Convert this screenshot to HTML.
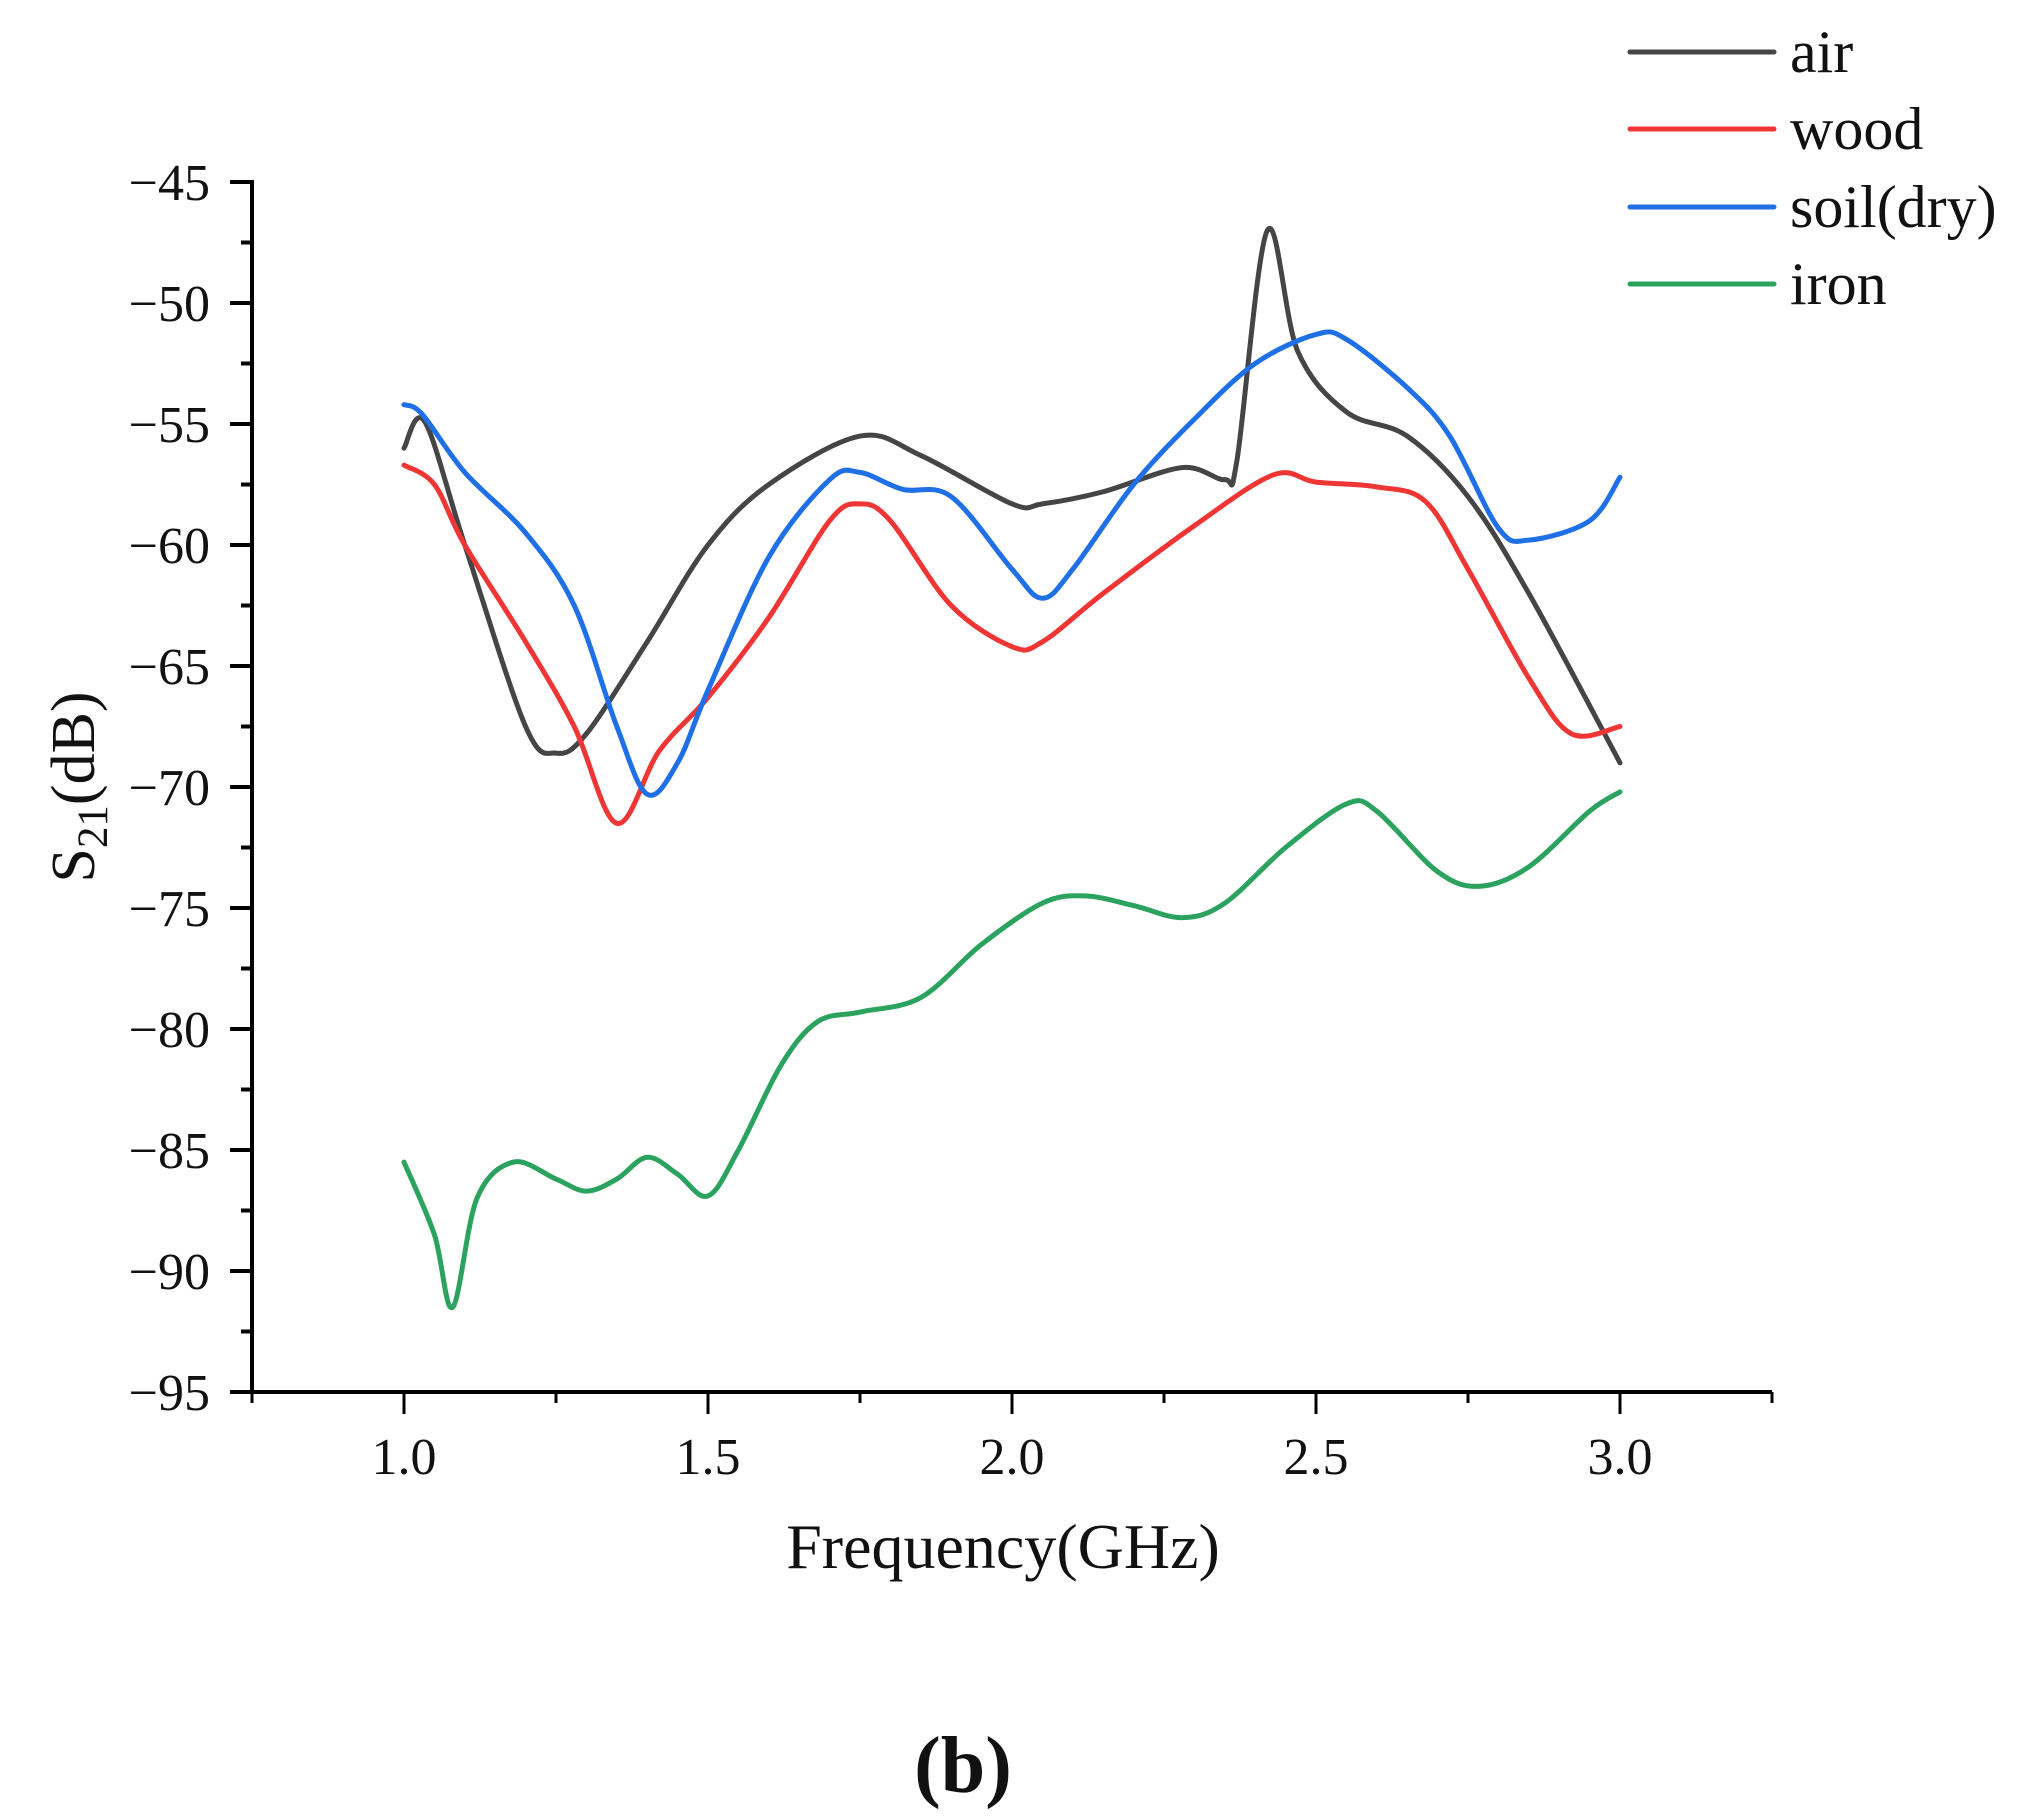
<!DOCTYPE html>
<html><head><meta charset="utf-8"><style>
html,body{margin:0;padding:0;background:#fff}
svg{display:block}
text{font-family:"Liberation Serif",serif;fill:#111}
</style></head><body>
<svg id="chart" width="2026" height="1820" viewBox="0 0 2026 1820">
<g id="axes"></g>
<g id="series"></g>
<g id="legend"></g>
<text x="1003" y="1568" font-size="64" text-anchor="middle">Frequency(GHz)</text>
<text transform="translate(94,787) rotate(-90)" font-size="62" text-anchor="middle">S<tspan font-size="43" dy="13">21</tspan><tspan dy="-13">(dB)</tspan></text>
<text x="963" y="1792" font-size="80" font-weight="bold" text-anchor="middle">(b)</text>
</svg>
<script>
const xTicks=[1.0,1.5,2.0,2.5,3.0];
const xTickLabels=["1.0","1.5","2.0","2.5","3.0"];
const yTicks=[-45,-50,-55,-60,-65,-70,-75,-80,-85,-90,-95];
const yTickLabels=["\u221245","\u221250","\u221255","\u221260","\u221265","\u221270","\u221275","\u221280","\u221285","\u221290","\u221295"];
const seriesNames=["air","wood","soil(dry)","iron"];
const airF=[1.0,1.034,1.1,1.2,1.25,1.3,1.4,1.5,1.6,1.75,1.85,2.0,2.05,2.15,2.28,2.35,2.37,2.42,2.47,2.55,2.65,2.75,2.85,3.0];
const airV=[-56,-54.9,-60,-67.5,-68.6,-67.8,-64,-60,-57.5,-55.5,-56.3,-58.3,-58.3,-57.8,-56.8,-57.3,-56.5,-47,-52,-54.5,-55.5,-58,-62,-69];
const woodF=[1.0,1.05,1.1,1.2,1.28,1.35,1.42,1.5,1.6,1.7,1.75,1.8,1.9,2.0,2.05,2.15,2.3,2.43,2.5,2.6,2.68,2.75,2.85,2.92,3.0];
const woodV=[-56.7,-57.5,-60,-64,-67.5,-71.5,-68.5,-66.3,-63,-59,-58.3,-59,-62.5,-64.2,-64,-62,-59.2,-57.1,-57.4,-57.6,-58.2,-61,-65.5,-67.8,-67.5];
const soilF=[1.0,1.03,1.1,1.2,1.28,1.35,1.4,1.45,1.5,1.6,1.7,1.75,1.82,1.9,2.0,2.05,2.1,2.2,2.3,2.4,2.5,2.55,2.65,2.72,2.8,2.85,2.95,3.0];
const soilV=[-54.2,-54.6,-57,-59.5,-62.5,-67.5,-70.3,-69,-66,-60.5,-57.3,-57,-57.7,-58,-61,-62.2,-61,-57.5,-54.8,-52.5,-51.3,-51.5,-53.5,-55.5,-59.3,-59.8,-59,-57.2];
const ironF=[1.0,1.05,1.08,1.12,1.18,1.25,1.3,1.35,1.4,1.45,1.5,1.55,1.62,1.68,1.75,1.85,1.95,2.05,2.12,2.2,2.28,2.35,2.45,2.55,2.6,2.7,2.77,2.85,2.95,3.0];
const ironV=[-85.5,-88.5,-91.5,-87,-85.5,-86.2,-86.7,-86.2,-85.3,-86,-86.9,-85,-81.5,-79.7,-79.3,-78.7,-76.5,-74.8,-74.5,-74.9,-75.4,-74.8,-72.5,-70.7,-71,-73.5,-74.1,-73.3,-71,-70.2];

const NS="http://www.w3.org/2000/svg";
const X0=252,X1=1772,FMIN=0.75,FMAX=3.25,Y0=182,Y1=1392,VMAX=-45,VMIN=-95;
function xs(f){return X0+(f-FMIN)/(FMAX-FMIN)*(X1-X0);}
function ys(v){return Y0+(VMAX-v)/(VMAX-VMIN)*(Y1-Y0);}
function mk(tag,attrs,parent){const e=document.createElementNS(NS,tag);for(const k in attrs)e.setAttribute(k,attrs[k]);parent.appendChild(e);return e;}
const axes=document.getElementById('axes');
let a=mk('line',{x1:X0,y1:Y0-2,x2:X0,y2:Y1,stroke:'#000','stroke-width':4},axes);


a=mk('line',{x1:X0-2,y1:Y1,x2:X1,y2:Y1,stroke:'#000','stroke-width':4},axes);


yTicks.forEach((v,i)=>{
  const t=mk('line',{x1:X0-22,y1:ys(v),x2:X0,y2:ys(v),stroke:'#000','stroke-width':4},axes);
  
  
  if(i<yTicks.length-1){
    const m=mk('line',{x1:X0-11,y1:ys(v-2.5),x2:X0,y2:ys(v-2.5),stroke:'#000','stroke-width':4},axes);
    
    
  }
  const l=mk('text',{x:210,y:ys(v)+18,'font-size':52,'text-anchor':'end'},axes);
  l.textContent=yTickLabels[i];
  
  
});
for(let f=FMIN;f<=FMAX+1e-9;f+=0.25){
  const major=xTicks.some(t=>Math.abs(t-f)<1e-9);
  const t=mk('line',{x1:xs(f),y1:Y1,x2:xs(f),y2:Y1+(major?22:11),stroke:'#000','stroke-width':3},axes);
  
  
}
xTicks.forEach((f,i)=>{
  const l=mk('text',{x:xs(f),y:1474,'font-size':52,'text-anchor':'middle'},axes);
  l.textContent=xTickLabels[i];
  
  
});
function pathFrom(F,V){
  const p=F.map((f,i)=>[xs(f),ys(V[i])]);
  let d='M'+p[0][0]+','+p[0][1];
  for(let i=0;i<p.length-1;i++){
    const p0=p[Math.max(0,i-1)],p1=p[i],p2=p[i+1],p3=p[Math.min(p.length-1,i+2)];
    const c1=[p1[0]+(p2[0]-p0[0])/6,p1[1]+(p2[1]-p0[1])/6];
    const c2=[p2[0]-(p3[0]-p1[0])/6,p2[1]-(p3[1]-p1[1])/6];
    d+=' C'+c1[0]+','+c1[1]+' '+c2[0]+','+c2[1]+' '+p2[0]+','+p2[1];
  }
  return d;
}
const colors=['#454545','#f03535','#1f6fe6','#2ba35f'];
const data=[[airF,airV],[woodF,woodV],[soilF,soilV],[ironF,ironV]];
const sg=document.getElementById('series');
const lg=document.getElementById('legend');
const legY=[52,129,207,284];
const slug=['air','wood','soil-dry','iron'];
data.forEach((s,i)=>{
  const p=mk('path',{d:pathFrom(s[0],s[1]),fill:'none',stroke:colors[i],'stroke-width':5,'stroke-linejoin':'round','stroke-linecap':'round'},sg);
  
  
  const ll=mk('line',{x1:1630,y1:legY[i],x2:1774,y2:legY[i],stroke:colors[i],'stroke-width':5,'stroke-linecap':'round'},lg);
  
  
  const lt=mk('text',{x:1790,y:legY[i]+20,'font-size':60},lg);
  lt.textContent=seriesNames[i];
  
  
});
</script>
</body></html>
